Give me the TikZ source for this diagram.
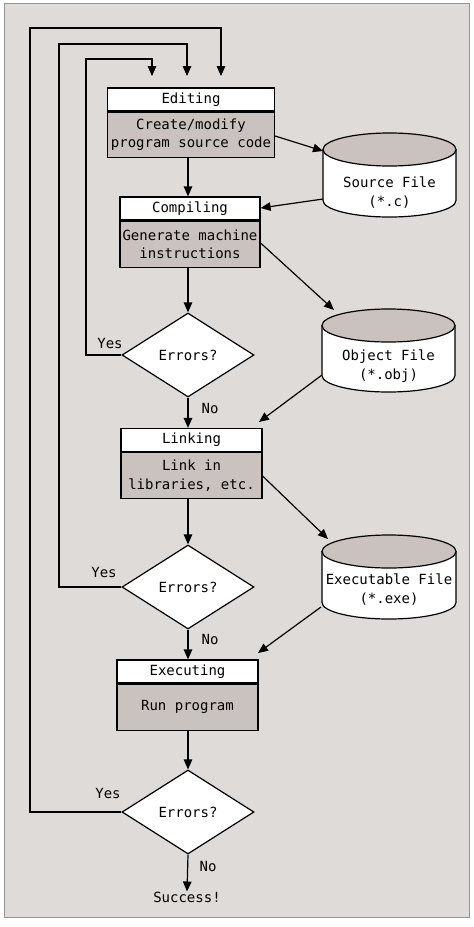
\documentclass[tikz,border=0pt]{standalone}
\usepackage{fontspec}
\setmonofont{DejaVu Sans Mono}
\usetikzlibrary{arrows.meta,shapes.geometric}
\definecolor{bgc}{RGB}{222,219,217}
\definecolor{bodyc}{RGB}{202,194,190}
\definecolor{framec}{RGB}{150,146,144}
\tikzset{
  lbl/.style={font=\ttfamily\fontsize{14}{16}\selectfont, inner sep=0pt},
  head/.style={draw, line width=1.2pt, fill=white, minimum height=23pt, inner sep=0pt, font=\ttfamily\fontsize{14}{16}\selectfont},
  bodyb/.style={draw, line width=1.2pt, fill=bodyc, inner sep=0pt, align=center, font=\ttfamily\fontsize{14}{18.5}\selectfont},
  dia/.style={draw, shape=diamond, line width=1.2pt, fill=white, inner sep=0pt, minimum width=132pt, minimum height=84pt, font=\ttfamily\fontsize{14}{16}\selectfont},
  arr/.style={line width=1.2pt, -{Triangle[length=10pt,width=8.5pt]}},
  cylside/.style={draw, line width=1.2pt, fill=white},
  cyltop/.style={draw, line width=1.2pt, fill=bodyc},
  cyltxt/.style={inner sep=0pt, align=center, font=\ttfamily\fontsize{14}{19}\selectfont},
}
\newcommand{\mycyl}[5]{% name, xl, xr, ytop-center, ybot-center
  \pgfmathsetmacro{\cx}{(#2+#3)/2}\pgfmathsetmacro{\rx}{(#3-#2)/2}
  \path[cylside] (#2,#4) -- (#2,#5) arc[start angle=180,end angle=360,x radius=\rx,y radius=-16.5] -- (#3,#4) -- cycle;
  \path[cyltop] (\cx,#4) ellipse[x radius=\rx, y radius=16.5];
  \node[inner sep=0pt, minimum width=#3-#2, minimum height=#5-#4+33] (#1) at (\cx,{(#4+#5)/2}) {};
}
\begin{document}
\begin{tikzpicture}[x=1pt,y=-1pt]
\useasboundingbox (0,0) rectangle (474,927);
\fill[white] (0,0) rectangle (474,927);
\path[fill=bgc, draw=framec, line width=1pt] (4,3.5) rectangle (469,917);

% boxes
\node[head, minimum width=167pt] (ehead) at (191,99.5) {Editing};
\node[bodyb, minimum width=167pt, minimum height=45pt, anchor=north] (ebody) at (ehead.south) {Create/modify\\program source code};
\node[head, minimum width=140pt] (chead) at (190,208.5) {Compiling};
\node[bodyb, minimum width=140pt, minimum height=46pt, anchor=north] (cbody) at (chead.south) {Generate machine\\instructions};
\node[head, minimum width=141pt] (lhead) at (191.5,440) {Linking};
\node[bodyb, minimum width=141pt, minimum height=46pt, anchor=north] (lbody) at (lhead.south) {Link in\\libraries, etc.};
\node[head, minimum width=141pt] (xhead) at (187.5,671.5) {Executing};
\node[bodyb, minimum width=141pt, minimum height=46pt, anchor=north] (xbody) at (xhead.south) {Run program};

% diamonds
\node[dia] (d1) at (188,355) {Errors?};
\node[dia] (d2) at (188,587) {Errors?};
\node[dia] (d3) at (188,812) {Errors?};
\node[lbl] (succ) at (187,897) {Success!};

% cylinders
\mycyl{src}{323}{456}{149.5}{200.5}
\node[cyltxt] (srct) at (389.5,193) {Source File\\(*.c)};
\mycyl{obj}{322}{455}{325.5}{375.5}
\node[cyltxt] (objt) at (388.5,366) {Object File\\(*.obj)};
\mycyl{exe}{322}{456}{551.5}{602.5}
\node[cyltxt] (exet) at (389,590) {Executable File\\(*.exe)};

% labels
\node[lbl] (y1) at (110,343) {Yes};
\node[lbl] (y2) at (104,572) {Yes};
\node[lbl] (y3) at (108,793) {Yes};
\node[lbl] (n1) at (210,408) {No};
\node[lbl] (n2) at (210,639) {No};
\node[lbl] (n3) at (208,866) {No};

% feedback coordinates
\coordinate (t3) at (221,28);
\coordinate (t2) at (187,44);
\coordinate (t1) at (152,59);
\coordinate (e3) at (221,76);
\coordinate (e2) at (187,76);
\coordinate (e1) at (152,76);

\draw[arr] (d1.west) -| (86,59) -- (t1) -- (e1);
\draw[arr] (d2.west) -| (59,44) -- (t2) -- (e2);
\draw[arr] (d3.west) -| (30,28) -- (t3) -- (e3);

% main flow
\draw[arr] (ebody.south -| d1.north) -- (chead.north -| d1.north);
\draw[arr] (cbody.south -| d1.north) -- (d1.north);
\draw[arr] (d1.south) -- (lhead.north -| d1.south);
\draw[arr] (lbody.south -| d2.north) -- (d2.north);
\draw[arr] (d2.south) -- (xhead.north -| d2.south);
\draw[arr] (xbody.south -| d3.north) -- (d3.north);
\draw[arr] (d3.south) -- (succ.north);

% file arrows
\coordinate (srcin) at (323,151);
\coordinate (srcout) at (323,199);
\coordinate (objin) at (334,310);
\coordinate (objout) at (322,375);
\coordinate (exein) at (328,539);
\coordinate (exeout) at (321,607);
\draw[arr] (ebody.east |- 0,136) -- (srcin);
\draw[arr] (srcout) -- (cbody.north east |- 0,208);
\draw[arr] (cbody.east |- 0,243) -- (objin);
\draw[arr] (objout) -- (259,422);
\draw[arr] (lbody.east |- 0,476) -- (exein);
\draw[arr] (exeout) -- (258,653);
\end{tikzpicture}
\end{document}
